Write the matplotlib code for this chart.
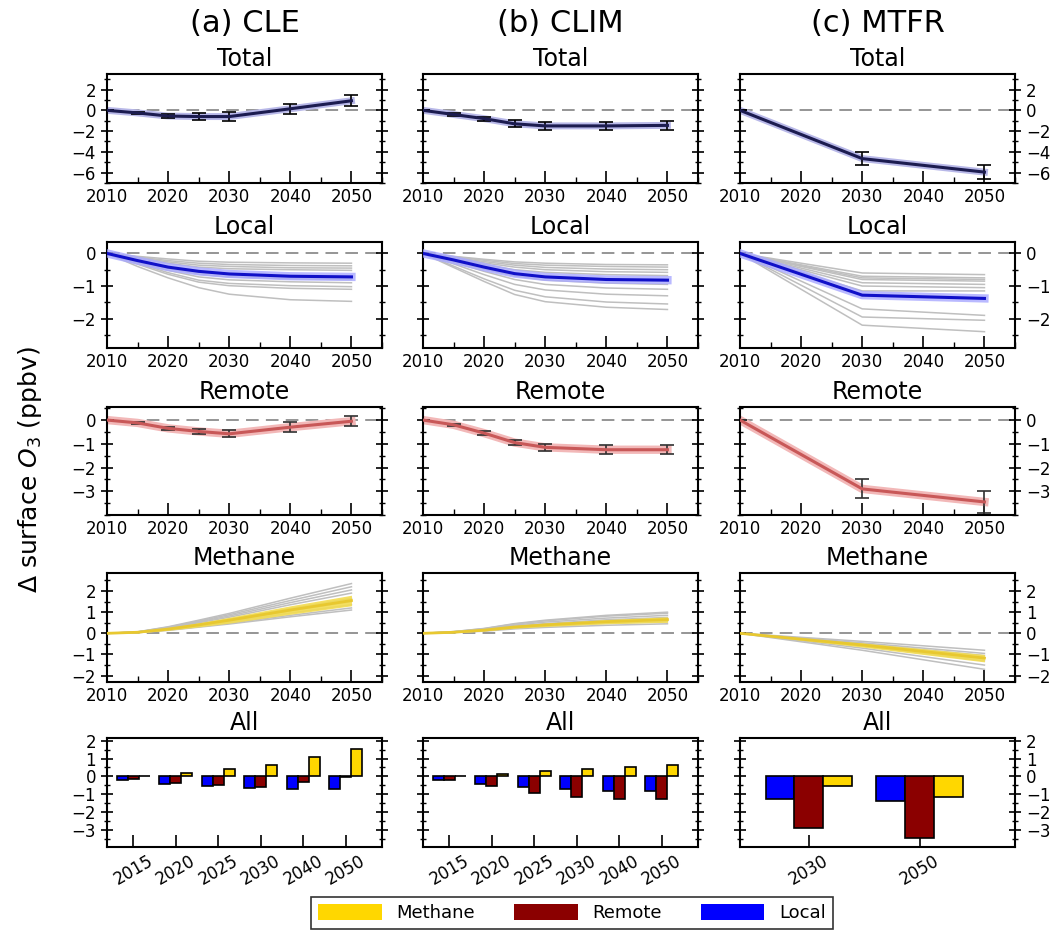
import numpy as np
import matplotlib
matplotlib.use("Agg")
import matplotlib.pyplot as plt
from matplotlib.ticker import MultipleLocator
from matplotlib.patches import Patch

# ---- data ----
years = [2010, 2015, 2020, 2025, 2030, 2040, 2050]
years_mtfr = [2010, 2030, 2050]
bar_labels = ['2015', '2020', '2025', '2030', '2040', '2050']
bar_labels_mtfr = ['2030', '2050']

# CLE
cle_total = [0, -0.25, -0.55, -0.6, -0.6, 0.15, 0.92]
cle_total_err = [0, 0.12, 0.15, 0.3, 0.4, 0.5, 0.55]
cle_local = [0, -0.22, -0.42, -0.55, -0.63, -0.7, -0.72]
cle_remote = [0, -0.12, -0.35, -0.48, -0.58, -0.3, -0.05]
cle_remote_err = [0, 0.05, 0.06, 0.12, 0.15, 0.2, 0.2]
cle_methane = [0, 0.05, 0.2, 0.4, 0.62, 1.1, 1.55]
cle_methane_lo = [0, 0.02, 0.14, 0.3, 0.48, 0.9, 1.3]
cle_methane_hi = [0, 0.08, 0.26, 0.5, 0.76, 1.3, 1.8]
cle_local_members = [
    [0, -0.09, -0.17, -0.24, -0.27, -0.29, -0.3],
    [0, -0.11, -0.22, -0.3, -0.34, -0.37, -0.38],
    [0, -0.13, -0.26, -0.36, -0.4, -0.44, -0.45],
    [0, -0.16, -0.3, -0.42, -0.47, -0.5, -0.52],
    [0, -0.24, -0.46, -0.64, -0.72, -0.78, -0.8],
    [0, -0.27, -0.52, -0.72, -0.81, -0.87, -0.9],
    [0, -0.3, -0.59, -0.82, -0.92, -0.99, -1.02],
    [0, -0.33, -0.64, -0.88, -0.99, -1.07, -1.1],
    [0, -0.4, -0.75, -1.05, -1.25, -1.42, -1.47],
]
cle_methane_members = [
    [0, 0.03, 0.14, 0.29, 0.44, 0.78, 1.1],
    [0, 0.04, 0.16, 0.32, 0.48, 0.85, 1.2],
    [0, 0.04, 0.18, 0.36, 0.54, 0.96, 1.35],
    [0, 0.05, 0.2, 0.4, 0.6, 1.06, 1.5],
    [0, 0.05, 0.22, 0.44, 0.66, 1.17, 1.65],
    [0, 0.06, 0.25, 0.5, 0.76, 1.35, 1.9],
    [0, 0.06, 0.27, 0.54, 0.82, 1.45, 2.05],
    [0, 0.07, 0.29, 0.58, 0.88, 1.55, 2.2],
    [0, 0.07, 0.31, 0.62, 0.94, 1.66, 2.35],
]

# CLIM
clim_total = [0, -0.4, -0.8, -1.3, -1.5, -1.5, -1.45]
clim_total_err = [0, 0.1, 0.2, 0.35, 0.35, 0.4, 0.45]
clim_local = [0, -0.2, -0.42, -0.62, -0.72, -0.8, -0.82]
clim_remote = [0, -0.2, -0.55, -0.95, -1.15, -1.25, -1.25]
clim_remote_err = [0, 0.05, 0.08, 0.1, 0.15, 0.18, 0.18]
clim_methane = [0, 0.05, 0.15, 0.3, 0.4, 0.55, 0.65]
clim_methane_lo = [0, 0.03, 0.11, 0.24, 0.32, 0.45, 0.52]
clim_methane_hi = [0, 0.07, 0.19, 0.36, 0.48, 0.65, 0.78]
clim_local_members = [
    [0, -0.09, -0.18, -0.26, -0.3, -0.34, -0.35],
    [0, -0.1, -0.21, -0.31, -0.36, -0.4, -0.42],
    [0, -0.12, -0.25, -0.36, -0.43, -0.48, -0.5],
    [0, -0.14, -0.29, -0.42, -0.5, -0.56, -0.58],
    [0, -0.17, -0.34, -0.5, -0.58, -0.65, -0.68],
    [0, -0.24, -0.48, -0.69, -0.82, -0.91, -0.95],
    [0, -0.27, -0.55, -0.8, -0.95, -1.06, -1.1],
    [0, -0.32, -0.65, -0.95, -1.12, -1.25, -1.3],
    [0, -0.39, -0.78, -1.13, -1.33, -1.49, -1.55],
    [0, -0.43, -0.86, -1.26, -1.48, -1.65, -1.72],
]
clim_methane_members = [
    [0, 0.04, 0.1, 0.21, 0.28, 0.38, 0.45],
    [0, 0.04, 0.13, 0.25, 0.34, 0.47, 0.55],
    [0, 0.05, 0.15, 0.3, 0.4, 0.55, 0.65],
    [0, 0.06, 0.17, 0.34, 0.46, 0.64, 0.75],
    [0, 0.07, 0.2, 0.39, 0.53, 0.72, 0.85],
    [0, 0.08, 0.22, 0.44, 0.59, 0.81, 0.95],
    [0, 0.08, 0.23, 0.46, 0.62, 0.85, 1.0],
]

# MTFR
mtfr_total = [0, -4.65, -5.95]
mtfr_total_err = [0, 0.6, 0.7]
mtfr_local = [0, -1.28, -1.38]
mtfr_remote = [0, -2.9, -3.45]
mtfr_remote_err = [0, 0.4, 0.45]
mtfr_methane = [0, -0.55, -1.17]
mtfr_methane_lo = [0, -0.65, -1.35]
mtfr_methane_hi = [0, -0.45, -1.0]
mtfr_local_members = [
    [0, -0.6, -0.65], [0, -0.7, -0.75], [0, -0.75, -0.8], [0, -0.8, -0.85],
    [0, -0.9, -0.95], [0, -1.0, -1.05], [0, -1.15, -1.15], [0, -1.7, -1.9],
    [0, -1.95, -2.05], [0, -2.2, -2.4],
]
mtfr_methane_members = [
    [0, -0.38, -0.8], [0, -0.45, -0.95], [0, -0.5, -1.05], [0, -0.55, -1.15],
    [0, -0.6, -1.3], [0, -0.7, -1.5], [0, -0.8, -1.7],
]

scenarios = [
    dict(title='(a) CLE', years=years, total=cle_total, total_err=cle_total_err,
         local=cle_local, local_m=cle_local_members, remote=cle_remote,
         remote_err=cle_remote_err, methane=cle_methane, meth_lo=cle_methane_lo,
         meth_hi=cle_methane_hi, meth_m=cle_methane_members, bars=bar_labels),
    dict(title='(b) CLIM', years=years, total=clim_total, total_err=clim_total_err,
         local=clim_local, local_m=clim_local_members, remote=clim_remote,
         remote_err=clim_remote_err, methane=clim_methane, meth_lo=clim_methane_lo,
         meth_hi=clim_methane_hi, meth_m=clim_methane_members, bars=bar_labels),
    dict(title='(c) MTFR', years=years_mtfr, total=mtfr_total, total_err=mtfr_total_err,
         local=mtfr_local, local_m=mtfr_local_members, remote=mtfr_remote,
         remote_err=mtfr_remote_err, methane=mtfr_methane, meth_lo=mtfr_methane_lo,
         meth_hi=mtfr_methane_hi, meth_m=mtfr_methane_members, bars=bar_labels_mtfr),
]

# ---- styling ----
C_LOCAL = '#0000ff'
C_REMOTE = '#8b0000'
C_METH = '#ffd700'
FS_TICK = 12

lefts = [107, 423, 740]
rows = [(74, 183), (242, 348), (407, 515), (573, 682), (738, 847)]
W, H = 1061, 932

fig = plt.figure(figsize=(W / 100, H / 100), dpi=100)


def make_ax(col, row):
    top, bot = rows[row]
    return fig.add_axes([lefts[col] / W, 1 - bot / H, 275 / W, (bot - top) / H])


def style_ax(ax, col, ylim, ticks, yminor, bars=False):
    ax.set_ylim(*ylim)
    ax.set_yticks(ticks)
    ax.yaxis.set_minor_locator(MultipleLocator(yminor))
    for s in ax.spines.values():
        s.set_linewidth(1.5)
    ax.tick_params(axis='y', which='both', direction='inout', left=True, right=True,
                   labelleft=(col == 0), labelright=(col == 2), labelsize=FS_TICK)
    ax.tick_params(axis='y', which='major', length=9, width=1.2)
    ax.tick_params(axis='y', which='minor', length=5, width=1)
    ax.tick_params(axis='x', which='both', direction='in', top=False, labelsize=FS_TICK)
    ax.tick_params(axis='x', which='major', length=9, width=1.2)
    ax.tick_params(axis='x', which='minor', length=4, width=1)
    if not bars:
        ax.set_xlim(2010, 2055)
        ax.set_xticks([2010, 2020, 2030, 2040, 2050])
        ax.xaxis.set_minor_locator(MultipleLocator(5))
        ax.axhline(0, color='0.55', lw=1.3, dashes=(7, 4), zorder=1)


for col, sc in enumerate(scenarios):
    yrs = sc['years']
    fig.text((lefts[col] + 137.5) / W, 1 - 24 / H, sc['title'], ha='center',
             va='center', fontsize=22)

    # Total
    ax = make_ax(col, 0)
    style_ax(ax, col, (-7, 3.5), [2, 0, -2, -4, -6], 1)
    ax.plot(yrs, sc['total'], color='#b8b8e8', lw=5, zorder=2)
    ax.errorbar(yrs, sc['total'], yerr=sc['total_err'], color='#1c1c50', lw=2.2,
                ecolor='black', elinewidth=1.2, capsize=5, capthick=1.2, zorder=3)
    ax.set_title('Total', fontsize=17, pad=6)

    # Local
    ax = make_ax(col, 1)
    style_ax(ax, col, (-2.9, 0.35), [0, -1, -2], 0.5)
    for m in sc['local_m']:
        ax.plot(yrs, m, color='0.75', lw=1.1, zorder=2)
    ax.plot(yrs, sc['local'], color='#a8a8ff', lw=6, alpha=0.8, zorder=3)
    ax.plot(yrs, sc['local'], color='#1010c8', lw=2.2, zorder=4)
    ax.set_title('Local', fontsize=17, pad=6)

    # Remote
    ax = make_ax(col, 2)
    style_ax(ax, col, (-4, 0.55), [0, -1, -2, -3], 0.5)
    ax.plot(yrs, sc['remote'], color='#f2b8b8', lw=6, zorder=2)
    ax.errorbar(yrs, sc['remote'], yerr=sc['remote_err'], color='#c85858', lw=2.2,
                ecolor='#303030', elinewidth=1.2, capsize=5, capthick=1.2, zorder=3)
    ax.set_title('Remote', fontsize=17, pad=6)

    # Methane
    ax = make_ax(col, 3)
    style_ax(ax, col, (-2.3, 2.85), [2, 1, 0, -1, -2], 0.5)
    for m in sc['meth_m']:
        ax.plot(yrs, m, color='0.75', lw=1.1, zorder=2)
    ax.fill_between(yrs, sc['meth_lo'], sc['meth_hi'], color='#f3dc50', lw=0,
                    alpha=0.9, zorder=3)
    ax.plot(yrs, sc['methane'], color='#e8c830', lw=2, zorder=4)
    ax.set_title('Methane', fontsize=17, pad=6)

    # All (bars)
    ax = make_ax(col, 4)
    style_ax(ax, col, (-3.95, 2.15), [2, 1, 0, -1, -2, -3], 0.5, bars=True)
    n = len(sc['bars'])
    x = np.arange(n)
    w = 0.26
    ax.bar(x - w, sc['local'][1:], w, color=C_LOCAL, edgecolor='black', lw=1.2, zorder=3)
    ax.bar(x, sc['remote'][1:], w, color=C_REMOTE, edgecolor='black', lw=1.2, zorder=3)
    ax.bar(x + w, sc['methane'][1:], w, color=C_METH, edgecolor='black', lw=1.2, zorder=3)
    ax.set_xlim(-0.62, n - 1 + 0.86)
    ax.set_xticks(x)
    ax.set_xticklabels(sc['bars'], rotation=30, fontsize=FS_TICK)
    ax.set_title('All', fontsize=17, pad=6)

fig.text(30 / W, 1 - 470 / H, r'$\Delta$ surface $O_3$ (ppbv)', rotation=90,
         ha='center', va='center', fontsize=18)

handles = [Patch(facecolor=C_METH, label='Methane'),
           Patch(facecolor=C_REMOTE, label='Remote'),
           Patch(facecolor=C_LOCAL, label='Local')]
leg = fig.legend(handles=handles, loc='center', bbox_to_anchor=(572 / W, 1 - 913 / H),
                 ncol=3, fontsize=13, frameon=True, fancybox=False, handlelength=3.5,
                 handleheight=1.0, columnspacing=2.2, borderpad=0.4)
leg.get_frame().set_edgecolor('black')
leg.get_frame().set_linewidth(1.2)

fig.savefig('out.png', dpi=100)
